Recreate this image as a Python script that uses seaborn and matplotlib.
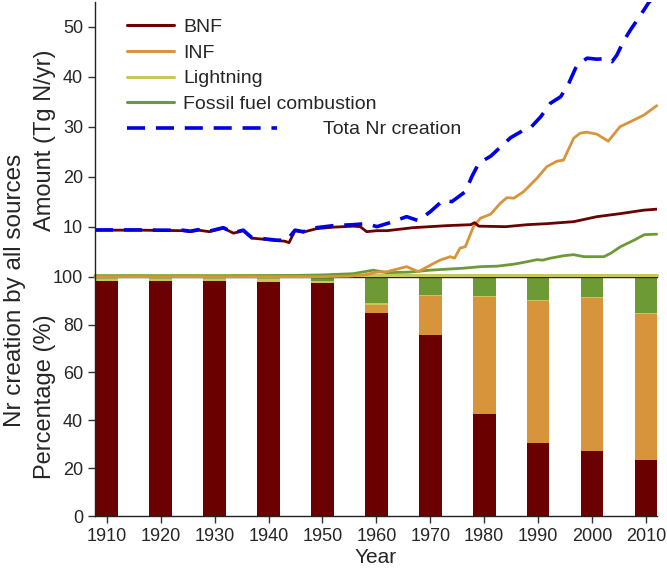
import numpy as np
import pandas as pd
import seaborn as sns
import matplotlib.pyplot as plt
from matplotlib.lines import Line2D

# ---- data ----
bnf_years = [1907.8, 1912, 1916, 1920, 1924, 1925.5, 1927, 1929, 1931.6, 1933.5, 1935.3,
             1936.9, 1939, 1941.5, 1943, 1943.8, 1944.9, 1946.4, 1948.9, 1952, 1955.7,
             1957, 1958.2, 1960.1, 1962, 1966.8, 1973, 1977.5, 1978.2, 1979, 1984, 1988,
             1991.6, 1996.6, 2000.9, 2005.2, 2009.6, 2012]
bnf_vals = [9.3, 9.3, 9.3, 9.25, 9.2, 9.0, 9.3, 9.0, 9.7, 8.7, 9.2,
            7.7, 7.5, 7.2, 7.1, 6.8, 9.2, 8.9, 9.6, 9.9, 10.1,
            10.0, 9.0, 9.2, 9.2, 9.8, 10.2, 10.4, 10.8, 10.1, 10.0, 10.4,
            10.6, 11.0, 12.0, 12.6, 13.3, 13.5]

inf_years = [1907.8, 1950, 1955, 1958, 1960, 1962, 1965.6, 1967.8, 1970, 1971.8, 1973.7,
             1974.5, 1975.5, 1976.5, 1978, 1979.3, 1981.2, 1983, 1984.2, 1985.5, 1987.3,
             1989.8, 1991.6, 1993.5, 1994.7, 1996.6, 1997.8, 1999, 2000.9, 2003, 2005.2,
             2007.7, 2009.6, 2012]
inf_vals = [0, 0, 0.1, 0.4, 0.9, 1.0, 2.0, 1.0, 2.3, 3.3, 4.0,
            3.7, 5.7, 6.0, 10.0, 11.7, 12.5, 14.7, 15.8, 15.7, 17.0,
            19.7, 22.0, 23.1, 23.3, 27.7, 28.7, 28.9, 28.5, 27.1, 30.0,
            31.3, 32.3, 34.2]

light_years = [1907.8, 1960, 2012]
light_vals = [0.3, 0.3, 0.3]

ff_years = [1907.8, 1930, 1945, 1950, 1955.7, 1959.4, 1961.9, 1966, 1970, 1976.2, 1979.3,
            1982.4, 1985.5, 1988, 1989.8, 1990.8, 1992.3, 1994.8, 1996.6, 1998.5, 2002.2,
            2003.5, 2005.3, 2007.8, 2009.7, 2012]
ff_vals = [0.15, 0.15, 0.25, 0.35, 0.6, 1.3, 0.8, 0.9, 1.3, 1.7, 2.0,
           2.1, 2.5, 3.0, 3.4, 3.3, 3.7, 4.2, 4.4, 4.0, 4.0,
           4.7, 6.0, 7.3, 8.4, 8.5]

total_years = [1907.8, 1912, 1916, 1920, 1924, 1925.5, 1927, 1929, 1931.6, 1933.5, 1935.3,
               1936.9, 1939, 1941.5, 1943.4, 1944.9, 1946.4, 1948.9, 1952, 1955.7, 1958.2,
               1960.1, 1962.5, 1965.6, 1967.8, 1970, 1972.4, 1974, 1976.5, 1977.7, 1979,
               1981.2, 1982.4, 1984.9, 1987.3, 1988.6, 1990.5, 1992.3, 1994.2, 1995.7, 1997.2,
               1999.1, 2000.9, 2002.8, 2003.7, 2004.6, 2005.8, 2007.1, 2009, 2010.5, 2012]
total_vals = [9.35, 9.35, 9.35, 9.3, 9.3, 9.1, 9.4, 9.1, 9.8, 8.8, 9.3,
              7.8, 7.6, 7.3, 7.3, 9.3, 9.0, 9.8, 10.2, 10.4, 10.6,
              10.0, 10.8, 12.0, 11.2, 13.0, 15.3, 15.0, 17.0, 20.0, 22.7,
              24.1, 25.3, 27.8, 29.3, 29.8, 32.0, 34.7, 36.0, 38.7, 42.3,
              43.7, 43.5, 43.6, 43.0, 44.3, 47.0, 49.3, 52.3, 54.8, 56.5]

bar_years = [1910, 1920, 1930, 1940, 1950, 1960, 1970, 1980, 1990, 2000, 2010]
pct_bnf = [98.3, 98.3, 98.3, 97.9, 97.2, 84.7, 75.8, 42.8, 30.6, 27.2, 23.6]
pct_inf = [0, 0, 0, 0, 0, 3.3, 16.0, 48.9, 59.4, 63.9, 60.8]
pct_light = [1.2, 1.2, 1.2, 1.5, 1.2, 0.9, 0.5, 0.4, 0.3, 0.3, 0.3]
pct_ff = [0.5, 0.5, 0.5, 0.6, 1.6, 11.1, 7.7, 7.9, 9.7, 8.6, 15.3]

c_bnf = '#6B0000'
c_inf = '#D8943A'
c_light = '#C9C65C'
c_ff = '#6E9A36'
c_tot = '#0000E6'

sns.set_style('ticks')
plt.rcParams['font.family'] = ['Liberation Sans', 'DejaVu Sans']

fig = plt.figure(figsize=(6.67, 5.74), dpi=100)
ax_bot = fig.add_axes([0.1424, 0.1010, 0.8426, 0.4169])
ax_top = fig.add_axes([0.1424, 0.5180, 0.8426, 0.4791])
xlim = (1907.8, 2012.05)

# ---- stacked percentage bars (drawn as overlapping cumulative bars) ----
bars = pd.DataFrame({'year': bar_years, 'BNF': pct_bnf, 'INF': pct_inf,
                     'Lightning': pct_light, 'FF': pct_ff})
cum = bars[['BNF', 'INF', 'Lightning', 'FF']].cumsum(axis=1)
cum['FF'] = 100.0
for col, c in [('FF', c_ff), ('Lightning', c_light), ('INF', c_inf), ('BNF', c_bnf)]:
    sns.barplot(x=bars['year'], y=cum[col], native_scale=True, width=0.42,
                color=c, saturation=1, errorbar=None, linewidth=0, ax=ax_bot)

ax_bot.set_xlim(*xlim)
ax_bot.set_ylim(0, 100)
ax_bot.set_xticks(bar_years)
ax_bot.set_xticklabels([str(y) for y in bar_years])
ax_bot.set_yticks([0, 20, 40, 60, 80, 100])
ax_bot.set_xlabel('Year', fontsize=15, labelpad=2)
ax_bot.set_ylabel('')
ax_bot.tick_params(labelsize=13, length=5, width=1, color='#333333')
ax_bot.spines['right'].set_visible(False)
for s in ['left', 'bottom', 'top']:
    ax_bot.spines[s].set_linewidth(1)
    ax_bot.spines[s].set_color('#222222')

# ---- amount lines ----
sns.lineplot(x=light_years, y=light_vals, color=c_light, lw=2.2, ax=ax_top, clip_on=False)
sns.lineplot(x=ff_years, y=ff_vals, color=c_ff, lw=2.0, ax=ax_top, clip_on=False)
sns.lineplot(x=inf_years, y=inf_vals, color=c_inf, lw=2.0, ax=ax_top, clip_on=False)
sns.lineplot(x=bnf_years, y=bnf_vals, color=c_bnf, lw=2.0, ax=ax_top)
sns.lineplot(x=total_years, y=total_vals, color=c_tot, lw=2.6,
             linestyle=(0, (5.0, 3.0)), ax=ax_top)

ax_top.set_xlim(*xlim)
ax_top.set_ylim(0, 55)
ax_top.set_yticks([10, 20, 30, 40, 50])
ax_top.set_xticks([])
ax_top.set_xlabel('')
ax_top.set_ylabel('')
ax_top.tick_params(labelsize=13, length=5, width=1, color='#333333')
ax_top.patch.set_alpha(0)
for s in ['right', 'top', 'bottom']:
    ax_top.spines[s].set_visible(False)
ax_top.spines['left'].set_linewidth(1)
ax_top.spines['left'].set_color('#222222')

# legends: four short handles, then the long dashed one
h = [Line2D([], [], color=c_bnf, lw=2.2),
     Line2D([], [], color=c_inf, lw=2.2),
     Line2D([], [], color=c_light, lw=2.2),
     Line2D([], [], color=c_ff, lw=2.2)]
leg1 = ax_top.legend(h, ['BNF', 'INF', 'Lightning', 'Fossil fuel combustion'],
                     loc='upper left', bbox_to_anchor=(0.057, 0.94), frameon=False,
                     fontsize=14, handlelength=2.4, handletextpad=0.5,
                     labelspacing=0.42, borderpad=0, borderaxespad=0)
ax_top.add_artist(leg1)
h2 = [Line2D([], [], color=c_tot, lw=2.6, linestyle=(0, (5.0, 3.0)))]
ax_top.legend(h2, ['Tota Nr creation'], loc='upper left',
              bbox_to_anchor=(0.057, 0.567), frameon=False, fontsize=14,
              handlelength=7.7, handletextpad=2.4, borderpad=0, borderaxespad=0)

# axis titles
fig.text(45 / 667, 1 - 140 / 574, 'Amount (Tg N/yr)', rotation=90,
         ha='center', va='center', fontsize=17)
fig.text(45 / 667, 1 - 397 / 574, 'Percentage (%)', rotation=90,
         ha='center', va='center', fontsize=17)
fig.text(15 / 667, 1 - 290 / 574, 'Nr creation by all sources', rotation=90,
         ha='center', va='center', fontsize=17.5)

fig.savefig('out.png', dpi=100)
